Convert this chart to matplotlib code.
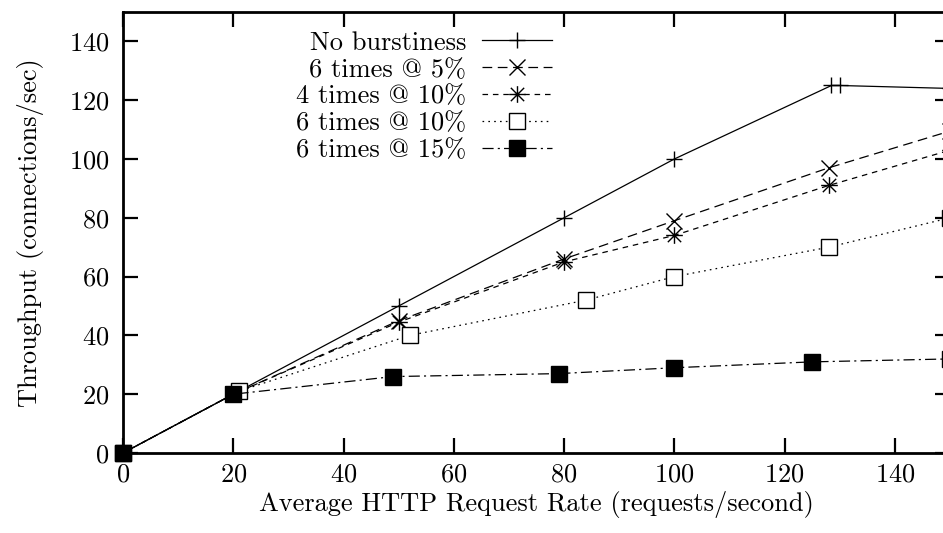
import matplotlib
matplotlib.use("Agg")
import matplotlib.pyplot as plt
from matplotlib.path import Path

plt.rcParams['font.family'] = ['cmr10', 'DejaVu Serif']
plt.rcParams['font.size'] = 19
plt.rcParams['axes.formatter.use_mathtext'] = True
plt.rcParams['lines.scale_dashes'] = False

# data
x_none = [0, 20, 50, 80, 100, 128.5, 130, 150]
y_none = [0, 20, 50, 80, 100, 125, 125, 124]

x_5 = [0, 20, 50, 80, 100, 128, 150]
y_5 = [0, 20, 45, 66, 79, 97, 109.5]

x_10a = [0, 20, 50, 80, 100, 128, 150]
y_10a = [0, 20, 44.5, 65, 74, 91, 103]

x_10b = [0, 21, 52, 84, 100, 128, 150]
y_10b = [0, 21, 40, 52, 60, 70, 80]

x_15 = [0, 20, 49, 79, 100, 125, 150]
y_15 = [0, 20, 26, 27, 29, 31, 32]

labels = ["No burstiness", "6 times @ 5%", "4 times @ 10%",
          "6 times @ 10%", "6 times @ 15%"]

# gnuplot style asterisk: plus and cross together
star = Path([(-0.5, 0), (0.5, 0), (0, -0.5), (0, 0.5),
             (-0.4, -0.4), (0.4, 0.4), (-0.4, 0.4), (0.4, -0.4)],
            [Path.MOVETO, Path.LINETO] * 4)

W, H = 943, 533
fig = plt.figure(figsize=(W / 100, H / 100), dpi=100)
ax = fig.add_axes([123 / W, (H - 453) / H, (950 - 123) / W, (453 - 12) / H])

lw = 0.9
ms = 12
kw = dict(color="black", lw=lw, ms=ms, mew=1.0, clip_on=False)
ax.plot(x_none, y_none, marker="+", label=labels[0], **kw)
ax.plot(x_5, y_5, dashes=(7, 4), marker="x", label=labels[1], **kw)
ax.plot(x_10a, y_10a, dashes=(4, 3.5), marker=star, mfc="none",
        label=labels[2], **kw)
ax.plot(x_10b, y_10b, dashes=(1.2, 3), marker="s", mfc="white",
        label=labels[3], **kw)
ax.plot(x_15, y_15, dashes=(8, 3, 1.5, 3), marker="s", mfc="black",
        label=labels[4], **kw)

ax.set_xlim(0, 150)
ax.set_ylim(0, 150)
ax.set_xticks(range(0, 141, 20))
ax.set_yticks(range(0, 141, 20))
for s in ax.spines.values():
    s.set_linewidth(2)
    s.set_zorder(5)
ax.tick_params(direction="in", length=11, width=1.6, top=True, right=True)
ax.tick_params(axis="y", pad=10)
ax.tick_params(axis="x", pad=7)

ax.set_xlabel("Average HTTP Request Rate (requests/second)", labelpad=3)
ax.set_ylabel("Throughput (connections/sec)", labelpad=18)

ax.legend(loc="upper right", bbox_to_anchor=(552 / W, 1 - 31 / H),
          bbox_transform=fig.transFigure, frameon=False, markerfirst=False,
          borderpad=0, borderaxespad=0, handlelength=2.65, handletextpad=0.6,
          labelspacing=0.12)

fig.savefig("out.png", dpi=100)
